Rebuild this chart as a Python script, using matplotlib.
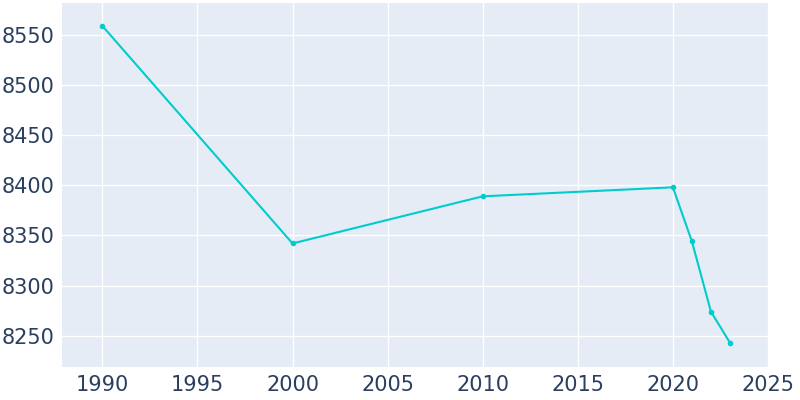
import matplotlib
matplotlib.use("Agg")
import matplotlib.pyplot as plt

years = [1990, 2000, 2010, 2020, 2021, 2022, 2023]
population = [8559, 8342, 8389, 8398, 8344, 8274, 8243]

fig = plt.figure(figsize=(8, 4), dpi=100)
ax = fig.add_axes([0.078, 0.083, 0.882, 0.91])
ax.set_facecolor("#e5ecf6")
ax.plot(years, population, color="#00cccc", linewidth=1.5, marker="o", markersize=3)
ax.set_xlim(1987.9, 2025)
ax.set_ylim(8219, 8582)
ax.set_xticks(range(1990, 2026, 5))
ax.set_yticks(range(8250, 8551, 50))
ax.grid(color="white", linewidth=1)
ax.set_axisbelow(True)
for s in ax.spines.values():
    s.set_visible(False)
ax.tick_params(length=0, labelsize=15, colors="#2a3f5f", pad=6)
fig.savefig("out.png")
